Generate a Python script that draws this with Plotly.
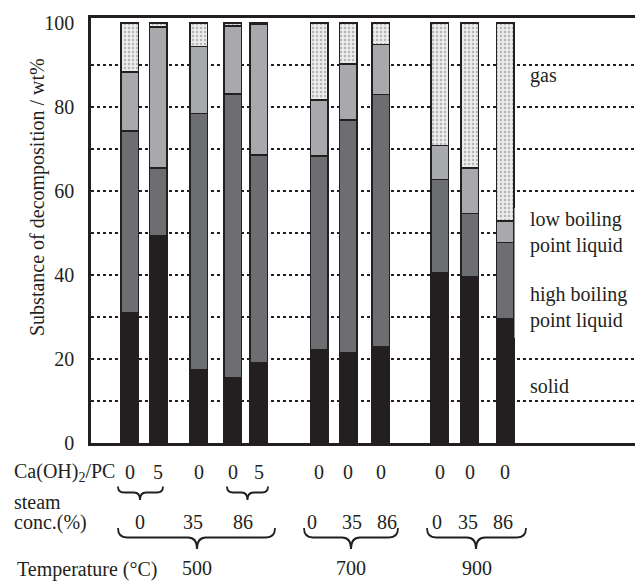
import plotly.graph_objects as go

# ---------------- data ----------------
solid = [31.1, 49.3, 17.4, 15.5, 19.1, 22.1, 21.5, 22.9, 40.6, 39.6, 29.5]
high_bp = [43.2, 16.2, 61.1, 67.6, 49.5, 46.3, 55.4, 60.1, 22.2, 15.1, 18.2]
low_bp = [14.1, 33.5, 15.9, 16.2, 31.0, 13.3, 13.3, 11.9, 8.1, 10.8, 5.2]
gas = [11.6, 1.0, 5.6, 0.7, 0.4, 18.3, 9.8, 5.1, 29.1, 34.5, 47.1]

ca_ratio = ["0", "5", "0", "0", "5", "0", "0", "0", "0", "0", "0"]
steam_conc = ["0", "35", "86", "0", "35", "86", "0", "35", "86"]
temperatures = ["500", "700", "900"]
y_ticks = [0, 20, 40, 60, 80, 100]
y_ticktext = ["0", "20", "40", "60", "80", "100"]

# ---------------- layout helpers ----------------
bar_x = [3.85, 6.7, 10.75, 14.15, 16.75, 22.8, 25.7, 28.95, 34.85, 37.85, 41.4]
steam_x = [4.9, 10.15, 15.2, 22.1, 26.1, 29.6, 34.6, 37.7, 41.2]
temp_x = [10.6, 26.0, 38.6]
small_braces = [(2.7, 4.9, 7.2), (13.6, 15.65, 17.7)]
big_braces = [(2.7, 10.6, 18.4), (21.3, 26.0, 30.7), (33.6, 38.5, 43.5)]

INK = "#231f20"
FONT = "Liberation Serif, Times New Roman, Tinos, DejaVu Serif, serif"
PLOT_TOP, PLOT_BOTTOM, PLOT_LEFT, PLOT_W = 18, 443, 91, 544


def py2paper(py):
    return (PLOT_BOTTOM - py) / (PLOT_BOTTOM - PLOT_TOP)


def px2paper(px):
    return (px - PLOT_LEFT) / PLOT_W


fig = go.Figure()
line = dict(color=INK, width=1.5)
fig.add_bar(x=bar_x, y=solid, width=1.75, name="solid",
            marker=dict(color=INK, line=line))
fig.add_bar(x=bar_x, y=high_bp, width=1.75, name="high",
            marker=dict(color="#6d6e71", line=line))
fig.add_bar(x=bar_x, y=low_bp, width=1.75, name="low",
            marker=dict(color="#a7a9ac", line=line))
fig.add_bar(x=bar_x, y=gas, width=1.75, name="gas",
            marker=dict(color="#ececec", line=line,
                        pattern=dict(shape=".", fgcolor="#808080", bgcolor="#ececec",
                                     size=4, solidity=0.3)))

fig.update_layout(
    barmode="stack",
    width=635, height=581,
    margin=dict(l=PLOT_LEFT, r=0, t=PLOT_TOP, b=581 - PLOT_BOTTOM, autoexpand=False),
    plot_bgcolor="white", paper_bgcolor="white",
    showlegend=False,
    font=dict(family=FONT, size=20, color=INK),
)
fig.update_xaxes(range=[0, 54.4], showline=True, mirror=True, linecolor=INK,
                 linewidth=2.5, showgrid=False, zeroline=False, automargin=False,
                 showticklabels=False, ticks="")
fig.update_yaxes(range=[0, 101.2], showline=True, linecolor=INK, linewidth=2.5,
                 zeroline=False, showgrid=False, automargin=False,
                 tickmode="array", tickvals=y_ticks, ticktext=y_ticktext,
                 ticks="", ticklabelstandoff=10,
                 tickfont=dict(family=FONT, size=20, color=INK),
                 minor=dict(tickmode="array", tickvals=[10, 20, 30, 40, 50, 60, 70, 80, 90],
                            showgrid=True, griddash="dot", gridcolor=INK, gridwidth=1.5,
                            ticks=""))

# y-axis title (positioned as in the original, above plot centre)
fig.add_annotation(x=px2paper(37), y=py2paper(197), xref="paper", yref="paper",
                   text="Substance of decomposition / wt%", textangle=-90,
                   showarrow=False, xanchor="center", yanchor="middle",
                   font=dict(family=FONT, size=20, color=INK))

# white block behind liquid labels (hides gridlines)
fig.add_shape(type="rect", xref="x", yref="y", x0=42.35, x1=54.4, y0=25, y1=56,
              fillcolor="white", line=dict(width=0), layer="above")

legend_items = [("gas", 87.6), ("low boiling<br>point liquid", 50.1),
                ("high boiling<br>point liquid", 32.3), ("solid", 13.6)]
for txt, yv in legend_items:
    fig.add_annotation(x=43.7, y=yv, xref="x", yref="y", text=txt, showarrow=False,
                       xanchor="left", yanchor="middle", align="left",
                       font=dict(family=FONT, size=20, color=INK))

# bottom rows
row_ca, row_steam_word, row_steam, row_temp = 472, 502, 522, 569
fig.add_annotation(x=px2paper(12), y=py2paper(row_ca), xref="paper", yref="paper",
                   text="Ca(OH)<sub>2</sub>/PC", showarrow=False, xanchor="left",
                   yanchor="middle")
fig.add_annotation(x=px2paper(12), y=py2paper(row_steam_word), xref="paper", yref="paper",
                   text="steam", showarrow=False, xanchor="left", yanchor="middle")
fig.add_annotation(x=px2paper(12), y=py2paper(row_steam), xref="paper", yref="paper",
                   text="conc.(%)", showarrow=False, xanchor="left", yanchor="middle")
fig.add_annotation(x=px2paper(15), y=py2paper(row_temp), xref="paper", yref="paper",
                   text="Temperature (°C)", showarrow=False, xanchor="left",
                   yanchor="middle")
for xv, t in zip(bar_x, ca_ratio):
    fig.add_annotation(x=xv, y=py2paper(row_ca), xref="x", yref="paper", text=t,
                       showarrow=False, yanchor="middle")
for xv, t in zip(steam_x, steam_conc):
    fig.add_annotation(x=xv, y=py2paper(row_steam), xref="x", yref="paper", text=t,
                       showarrow=False, yanchor="middle")
for xv, t in zip(temp_x, temperatures):
    fig.add_annotation(x=xv, y=py2paper(row_temp - 1), xref="x", yref="paper", text=t,
                       showarrow=False, yanchor="middle")


def brace_path(x0, xm, x1, top, mid, tip, r):
    t, m, p = py2paper(top), py2paper(mid), py2paper(tip)
    return (f"M {x0},{t} Q {x0},{m} {x0 + r},{m} L {xm - r},{m} "
            f"Q {xm},{m} {xm},{p} Q {xm},{m} {xm + r},{m} "
            f"L {x1 - r},{m} Q {x1},{m} {x1},{t}")


for x0, xm, x1 in small_braces:
    fig.add_shape(type="path", xref="x", yref="paper",
                  path=brace_path(x0, xm, x1, 486.5, 492.5, 500, 0.6),
                  line=dict(color=INK, width=1.8))
for x0, xm, x1 in big_braces:
    fig.add_shape(type="path", xref="x", yref="paper",
                  path=brace_path(x0, xm, x1, 528, 537.5, 549, 0.9),
                  line=dict(color=INK, width=1.8))

fig.write_html("out.html", config={"displayModeBar": False},
               post_script="document.body.style.margin='0px';document.body.style.padding='0px';")
